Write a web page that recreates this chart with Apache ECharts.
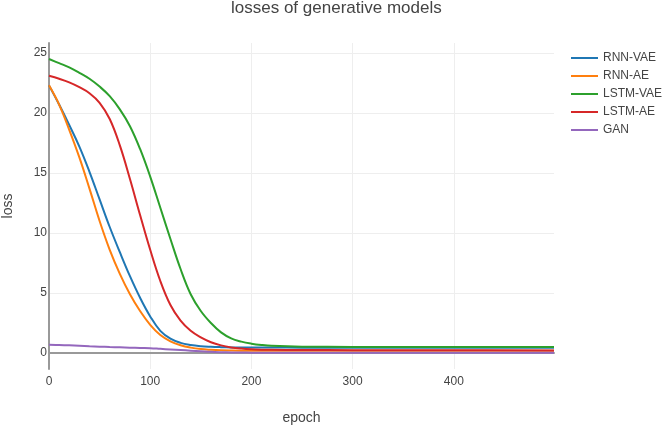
<!DOCTYPE html>
<html>
<head>
<meta charset="utf-8">
<script src="https://cdn.jsdelivr.net/npm/echarts@6/dist/echarts.min.js"></script>
<style>
html,body{margin:0;padding:0;background:#fff;}
#chart{width:664px;height:426px;}
</style>
</head>
<body>
<div id="chart"></div>
<script>
const epochs = [0,10,20,30,40,50,60,70,80,90,100,110,120,130,140,150,160,170,180,190,200,210,220,250,300,400,499];
const rnnVae = [22.3,20.7,19.0,17.2,15.1,12.8,10.5,8.4,6.4,4.6,3.05,1.85,1.2,0.85,0.67,0.57,0.52,0.49,0.47,0.46,0.46,0.46,0.46,0.45,0.45,0.45,0.45];
const rnnAe = [22.3,20.7,18.6,16.3,13.7,11.0,8.6,6.6,4.9,3.5,2.35,1.5,0.98,0.65,0.45,0.33,0.27,0.23,0.21,0.2,0.2,0.2,0.2,0.2,0.2,0.2,0.2];
const lstmVae = [24.5,24.15,23.8,23.35,22.85,22.2,21.4,20.3,18.9,17.0,14.7,12.1,9.5,7.0,4.9,3.5,2.5,1.72,1.22,0.95,0.78,0.67,0.6,0.53,0.51,0.5,0.5];
const lstmAe = [23.1,22.85,22.55,22.15,21.65,20.85,19.5,17.3,14.5,11.5,8.6,6.0,4.0,2.7,1.85,1.3,0.9,0.64,0.47,0.37,0.31,0.28,0.27,0.25,0.24,0.23,0.22];
const gan = [0.7,0.67,0.64,0.6,0.56,0.53,0.5,0.48,0.45,0.42,0.4,0.35,0.3,0.25,0.2,0.15,0.1,0.07,0.05,0.04,0.03,0.02,0.02,0.02,0.02,0.02,0.02];
const seriesNames = ['RNN-VAE','RNN-AE','LSTM-VAE','LSTM-AE','GAN'];
const seriesValues = [rnnVae, rnnAe, lstmVae, lstmAe, gan];
const colors = ['#1f77b4','#ff7f0e','#2ca02c','#d62728','#9467bd'];
const xTicks = [0,100,200,300,400];
const yTicks = [0,5,10,15,20,25];

const font = 'Liberation Sans, Arial, sans-serif';
const chart = echarts.init(document.getElementById('chart'), null, {renderer:'canvas'});
const series = seriesNames.map((n,i)=>({
  name:n, type:'line', symbol:'none', showSymbol:false, smooth:0.4,
  lineStyle:{width:2, color:colors[i]}, itemStyle:{color:colors[i]},
  data: epochs.map((e,j)=>[e, seriesValues[i][j]]), z:3
}));
chart.setOption({
  animation:false,
  textStyle:{fontFamily:font},
  title:{text:'losses of generative models', left:231, top:-5, padding:[5,0,5,0],
    textStyle:{fontSize:17, fontWeight:'normal', color:'#444', fontFamily:font}},
  legend:{orient:'vertical', left:566, top:46, itemWidth:27, itemHeight:2, itemGap:4,
    icon:'rect',
    textStyle:{fontSize:12, color:'#444', fontFamily:font, lineHeight:14},
    data:seriesNames},
  grid:{left:49, right:110, top:43, bottom:57, containLabel:false, outerBoundsMode:'none'},
  xAxis:[{
    type:'value', min:0, max:499,
    name:'epoch', nameLocation:'middle', nameGap:42,
    nameTextStyle:{fontSize:14, color:'#444', fontFamily:font},
    axisLine:{show:false, onZero:false}, axisTick:{show:false},
    axisLabel:{color:'#444', fontSize:12, margin:7, fontFamily:font,
      formatter:v=> xTicks.indexOf(v)>=0 ? String(v) : ''},
    splitLine:{show:true, showMinLine:false, showMaxLine:false, lineStyle:{color:'#eee', width:1}}
  },{
    type:'value', min:0, max:499, position:'bottom',
    axisLine:{show:true, onZero:true, lineStyle:{color:'#999', width:2}},
    axisTick:{show:false}, axisLabel:{show:false}, splitLine:{show:false}
  }],
  yAxis:{
    type:'value', min:-1.33, max:25.83,
    name:'loss', nameLocation:'middle', nameGap:34,
    nameTextStyle:{fontSize:14, color:'#444', fontFamily:font},
    axisLine:{show:true, onZero:false, lineStyle:{color:'#999', width:2}},
    axisTick:{show:false},
    axisLabel:{color:'#444', fontSize:12, margin:2, fontFamily:font,
      formatter:v=> yTicks.indexOf(v)>=0 ? String(v) : ''},
    splitLine:{show:true, showMinLine:false, showMaxLine:false, lineStyle:{color:'#eee', width:1}}
  },
  series: series
});
</script>
</body>
</html>
